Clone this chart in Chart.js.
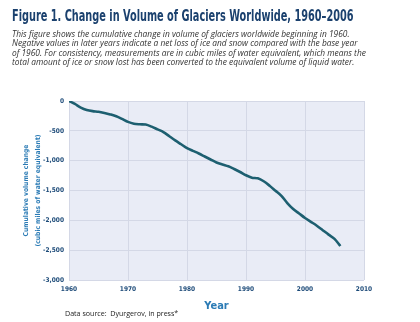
<!DOCTYPE html>
<html>
<head>
<meta charset="utf-8">
<script src="https://cdn.jsdelivr.net/npm/chart.js@4"></script>
<style>
  html, body { margin: 0; padding: 0; background: #fff; }
  #wrap { position: relative; width: 420px; height: 322px; overflow: hidden; }
  #chart { position: absolute; left: 0; top: 0; }
  #title {
    position: absolute; left: 12px; top: 7px; white-space: nowrap;
    font: bold 15px "DejaVu Sans Condensed", "DejaVu Sans", sans-serif;
    color: #1b416e; transform-origin: 0 0;
  }
  #desc {
    position: absolute; left: 12px; top: 29px; width: 400px;
    font: italic 8.4px "Open Sans", sans-serif; line-height: 9.4px;
    color: #333;
  }
  #source {
    position: absolute; left: 65px; top: 308px; white-space: nowrap;
    font: 7.1px "Open Sans", sans-serif; color: #222;
  }
</style>
</head>
<body>
<div id="wrap">
  <canvas id="chart" width="420" height="322"></canvas>
  <div id="title">Figure 1. Change in Volume of Glaciers Worldwide, 1960–2006</div>
  <div id="desc">This figure shows the cumulative change in volume of glaciers worldwide beginning in 1960.<br>Negative values in later years indicate a net loss of ice and snow compared with the base year<br>of 1960. For consistency, measurements are in cubic miles of water equivalent, which means the<br>total amount of ice or snow lost has been converted to the equivalent volume of liquid water.</div>
  <div id="source">Data source:&nbsp; Dyurgerov, in press*</div>
</div>
<script>
// squeeze the title to the width it has in the figure
const t = document.getElementById('title');
t.style.transform = 'scaleX(' + (342 / t.offsetWidth) + ')';

const years = [];
for (let y = 1960; y <= 2006; y++) years.push(y);

// cumulative change, cubic miles of water equivalent
const volumeChange = [
  0, -50, -110, -150, -170, -180, -200, -225, -255, -300,
  -350, -380, -390, -395, -430, -475, -520, -590, -660, -725,
  -790, -835, -880, -930, -980, -1030, -1065, -1095, -1140, -1190,
  -1245, -1285, -1295, -1345, -1420, -1505, -1590, -1710, -1810, -1885,
  -1960, -2025, -2090, -2165, -2240, -2310, -2430
];

const xTicks = [1960, 1970, 1980, 1990, 2000, 2010];
const yTicks = [0, -500, -1000, -1500, -2000, -2500, -3000];

const blue = '#2b7bb5';
const navy = '#1c4a78';

// fill the plot area with the pale blue background
const plotBg = {
  id: 'plotBg',
  beforeDraw(chart) {
    const { ctx, chartArea: a } = chart;
    ctx.save();
    ctx.fillStyle = '#e9ecf6';
    ctx.fillRect(a.left, a.top, a.right - a.left, a.bottom - a.top);
    ctx.restore();
  }
};

new Chart(document.getElementById('chart'), {
  type: 'line',
  data: {
    datasets: [{
      data: years.map((y, i) => ({ x: y, y: volumeChange[i] })),
      borderColor: '#1d5f70',
      borderWidth: 2.6,
      pointRadius: 0,
      tension: 0.3,
      fill: false
    }]
  },
  options: {
    responsive: false,
    animation: false,
    layout: { padding: { top: 101, right: 56, left: 20, bottom: 9 } },
    plugins: { legend: { display: false }, tooltip: { enabled: false } },
    scales: {
      x: {
        type: 'linear',
        min: 1960, max: 2010,
        afterBuildTicks: s => { s.ticks = xTicks.map(v => ({ value: v })); },
        afterFit: s => { s.height = 33; },
        grid: { color: '#d4d8e6', lineWidth: 1, drawTicks: false },
        border: { display: false },
        ticks: {
          color: navy, padding: 5, maxRotation: 0,
          font: { family: 'DejaVu Sans Condensed', size: 6.5, weight: 'bold' },
          callback: v => String(v)
        },
        title: {
          display: true, text: 'Year', color: blue, padding: { top: 2, bottom: 0 },
          font: { family: 'DejaVu Sans Condensed', size: 11, weight: 'bold' }
        }
      },
      y: {
        min: -3000, max: 0,
        afterBuildTicks: s => { s.ticks = yTicks.map(v => ({ value: v })); },
        afterFit: s => { s.width = 49; },
        grid: { color: '#d4d8e6', lineWidth: 1, drawTicks: false },
        border: { display: false },
        ticks: {
          color: navy, padding: 5,
          font: { family: 'DejaVu Sans Condensed', size: 6.5, weight: 'bold' },
          callback: v => v.toLocaleString('en-US')
        },
        title: {
          display: true,
          text: ['Cumulative volume change', '(cubic miles of water equivalent)'],
          color: blue, padding: 0,
          font: { family: 'DejaVu Sans Condensed', size: 6.7, weight: 'bold', lineHeight: 1.8 }
        }
      }
    }
  },
  plugins: [plotBg]
});
</script>
</body>
</html>
